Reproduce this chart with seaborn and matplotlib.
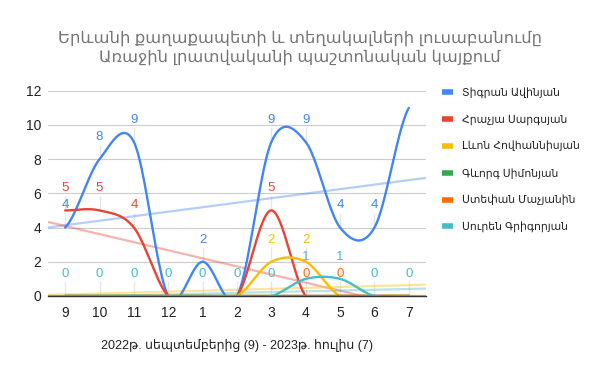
import numpy as np
import pandas as pd
import matplotlib
matplotlib.use("Agg")
import matplotlib.pyplot as plt
from matplotlib.lines import Line2D
import seaborn as sns

months = ["9", "10", "11", "12", "1", "2", "3", "4", "5", "6", "7"]
names = ["Տիգրան Ավինյան", "Հրաչյա Սարգսյան", "Լևոն Հովհաննիսյան",
         "Գևորգ Սիմոնյան", "Ստեփան Մաչյանին", "Սուրեն Գրիգորյան"]
avinyan = [4, 8, 9, 0, 2, 0, 9, 9, 4, 4, 11]
sargsyan = [5, 5, 4, 0, 0, 0, 5, 0, 0, 0, 0]
hovhannisyan = [0, 0, 0, 0, 0, 0, 2, 2, 0, 0, 0]
simonyan = [0, 0, 0, 0, 0, 0, 0, 0, 0, 0, 0]
machyan = [0, 0, 0, 0, 0, 0, 0, 0, 0, 0, 0]
grigoryan = [0, 0, 0, 0, 0, 0, 0, 1, 1, 0, 0]
series = [avinyan, sargsyan, hovhannisyan, simonyan, machyan, grigoryan]
colors = ["#4285F4", "#EA4335", "#FBBC04", "#34A853", "#FF6D01", "#46BDC6"]
# which points carry a visible data label
labelled = [[0, 1, 2, 4, 6, 7, 8, 9], [0, 1, 2, 6], [6, 7], [], [7, 8],
            list(range(11))]

title = "Երևանի քաղաքապետի և տեղակալների լուսաբանումը\nԱռաջին լրատվականի պաշտոնական կայքում"
xlabel = "2022թ. սեպտեմբերից (9) - 2023թ. հուլիս (7)"


def smooth(vals, n=40):
    """Catmull-Rom rendering of the line through the data points."""
    y = np.asarray(vals, float)
    xs, ys = [], []
    for i in range(len(y) - 1):
        p0 = y[i - 1] if i > 0 else y[i]
        p1, p2 = y[i], y[i + 1]
        p3 = y[i + 2] if i + 2 < len(y) else y[i + 1]
        t = np.linspace(0, 1, n, endpoint=False)
        v = 0.5 * ((2 * p1) + (-p0 + p2) * t + (2 * p0 - 5 * p1 + 4 * p2 - p3) * t ** 2
                   + (-p0 + 3 * p1 - 3 * p2 + p3) * t ** 3)
        xs.extend(i + t)
        ys.extend(v)
    xs.append(len(y) - 1)
    ys.append(y[-1])
    return np.array(xs), np.array(ys)


sns.set_theme(style="white")
plt.rcParams["font.family"] = ["Liberation Sans", "DejaVu Sans"]

fig = plt.figure(figsize=(6, 3.71), dpi=100)
ax = fig.add_axes([0.08, 0.2022, 0.63, 0.5533])
ax.set_xlim(-0.5, len(months) - 0.5)
ax.set_ylim(0, 12)

xi = np.arange(len(months))

# trendlines
for vals, c in zip(series, colors):
    sns.regplot(x=xi, y=np.array(vals, float), ax=ax, scatter=False, ci=None,
                truncate=False, line_kws=dict(color=c, alpha=0.4, lw=1.6, zorder=2))

# smoothed series
for vals, c, name in zip(series, colors, names):
    sx, sy = smooth(vals)
    df = pd.DataFrame({"x": sx, "y": sy})
    sns.lineplot(data=df, x="x", y="y", ax=ax, color=c, lw=1.7, zorder=3,
                 sort=False, estimator=None)

# data labels with stems
for vals, c, idxs in zip(series, colors, labelled):
    for i in idxs:
        v = vals[i]
        ax.vlines(i, v, v + 0.85, color="#e6e6e6", lw=1, zorder=1)
        ax.text(i, v + 1.3, str(v), color=c, ha="center", va="center",
                fontsize=9.5, zorder=4)

ax.set_xticks(xi)
ax.set_xticklabels(months)
ax.set_yticks(range(0, 13, 2))
ax.tick_params(axis="both", length=0, labelsize=10, colors="#222222")
ax.tick_params(axis="x", pad=7)
ax.tick_params(axis="y", pad=5)
ax.grid(axis="y", color="#cccccc", lw=0.8)
ax.grid(axis="x", visible=False)
for s in ["top", "right", "left"]:
    ax.spines[s].set_visible(False)
ax.spines["bottom"].set_color("#333333")
ax.spines["bottom"].set_linewidth(1.0)
ax.spines["bottom"].set_zorder(5)
ax.set_xlabel(xlabel, fontsize=9.0, color="#222222", labelpad=14)
ax.set_ylabel("")

fig.text(0.5, 0.872, title, ha="center", va="center", fontsize=11.8,
         color="#757575", linespacing=1.3)

handles = [Line2D([], [], color=c, lw=4, solid_capstyle="butt") for c in colors]
fig.legend(handles, names, loc="upper left", bbox_to_anchor=(0.737, 0.765),
           frameon=False, fontsize=7.75, handlelength=1.0, handletextpad=0.85,
           labelspacing=1.5, borderaxespad=0, borderpad=0, labelcolor="#222222")

fig.savefig("out.png", dpi=100)
